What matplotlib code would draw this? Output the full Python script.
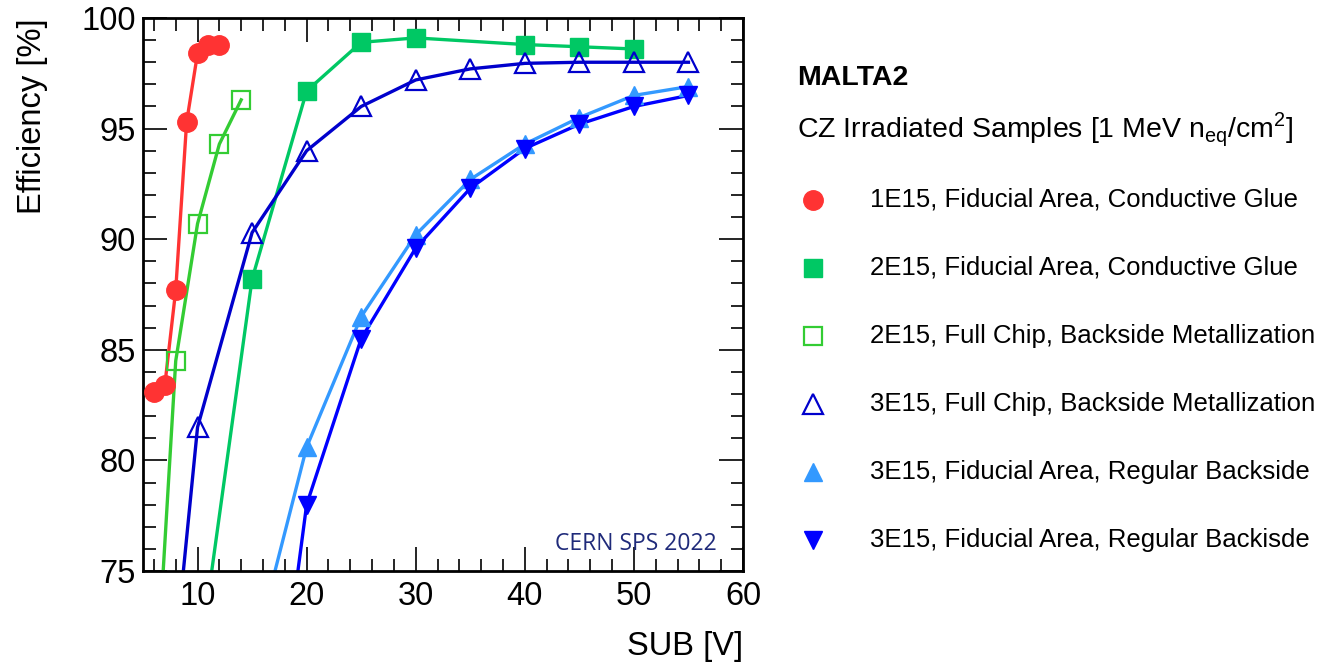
import matplotlib
matplotlib.use("Agg")
import matplotlib.pyplot as plt
from matplotlib.lines import Line2D
from matplotlib.ticker import MultipleLocator

plt.rcParams['font.family'] = ['Liberation Sans', 'DejaVu Sans']

# 1E15, fiducial area, conductive glue
v_1e15 = [6, 7, 8, 9, 10, 11, 12]
eff_1e15 = [83.1, 83.4, 87.7, 95.3, 98.4, 98.8, 98.8]

# 2E15, fiducial area, conductive glue
v_2e15_fid = [15, 20, 25, 30, 40, 45, 50]
eff_2e15_fid = [88.2, 96.7, 98.9, 99.1, 98.8, 98.7, 98.6]

# 2E15, full chip, backside metallization
v_2e15_full = [8, 10, 12, 14]
eff_2e15_full = [84.5, 90.7, 94.3, 96.3]

# 3E15, full chip, backside metallization
v_3e15_full = [10, 15, 20, 25, 30, 35, 40, 45, 50, 55]
eff_3e15_full = [81.5, 90.3, 94.0, 96.0, 97.2, 97.7, 97.95, 98.0, 98.0, 98.0]

# 3E15, fiducial area, regular backside
v_3e15_reg = [20, 25, 30, 35, 40, 45, 50, 55]
eff_3e15_reg = [80.6, 86.5, 90.2, 92.7, 94.3, 95.5, 96.5, 96.9]

# 3E15, fiducial area, regular backside (second sample)
v_3e15_reg2 = [20, 25, 30, 35, 40, 45, 50, 55]
eff_3e15_reg2 = [78.0, 85.5, 89.6, 92.3, 94.1, 95.2, 96.0, 96.5]

# where each drawn curve leaves the bottom of the frame (75 %)
v_at_75 = [None, 11.3, 6.85, 8.7, 17.1, 19.2]

labels = [
    "1E15, Fiducial Area, Conductive Glue",
    "2E15, Fiducial Area, Conductive Glue",
    "2E15, Full Chip, Backside Metallization",
    "3E15, Full Chip, Backside Metallization",
    "3E15, Fiducial Area, Regular Backside",
    "3E15, Fiducial Area, Regular Backisde",
]

c_red = '#ff3333'
c_green = '#00c864'
c_lime = '#33cc33'
c_navy = '#0000cc'
c_light = '#3399ff'
c_blue = '#0000ff'
colors = [c_red, c_green, c_lime, c_navy, c_light, c_blue]

styles = [
    dict(marker='o', ms=14, mfc=c_red, mec=c_red),
    dict(marker='s', ms=13, mfc=c_green, mec=c_green),
    dict(marker='s', ms=13, mfc='none', mec=c_lime, mew=1.6),
    dict(marker='^', ms=15, mfc='none', mec=c_navy, mew=1.6),
    dict(marker='^', ms=13, mfc=c_light, mec=c_light),
    dict(marker='v', ms=13, mfc=c_blue, mec=c_blue),
]
xs = [v_1e15, v_2e15_fid, v_2e15_full, v_3e15_full, v_3e15_reg, v_3e15_reg2]
ys = [eff_1e15, eff_2e15_fid, eff_2e15_full, eff_3e15_full, eff_3e15_reg, eff_3e15_reg2]

fig = plt.figure(figsize=(13.22, 6.63), dpi=100)
ax = fig.add_axes([143 / 1322, 92 / 663, 600 / 1322, 553 / 663])

lw = 2.4
for x, y, c, v75 in zip(xs, ys, colors, v_at_75):
    lx, ly = list(x), list(y)
    if v75 is not None:
        lx = [v75] + lx
        ly = [75.0] + ly
    ax.plot(lx, ly, color=c, lw=lw, zorder=2)

for x, y, st in zip(xs, ys, styles):
    ax.plot(x, y, linestyle='None', zorder=3, **st)

ax.set_xlim(5, 60)
ax.set_ylim(75, 100)
ax.xaxis.set_major_locator(MultipleLocator(10))
ax.xaxis.set_minor_locator(MultipleLocator(2))
ax.yaxis.set_major_locator(MultipleLocator(5))
ax.yaxis.set_minor_locator(MultipleLocator(1))
ax.tick_params(which='both', direction='in', top=True, right=True, width=1.2,
               labelsize=23.5, colors='black')
ax.tick_params(which='major', length=17)
ax.tick_params(which='minor', length=9)
ax.tick_params(axis='x', pad=7)
ax.tick_params(axis='y', pad=5)
for s in ax.spines.values():
    s.set_linewidth(2)

ax.set_xlabel("SUB [V]", fontsize=23.5, loc='right', labelpad=14)
ax.set_ylabel("Efficiency [%]", fontsize=23.5, loc='top', labelpad=24)

ax.text(0.957, 0.028, "CERN SPS 2022", transform=ax.transAxes, ha='right', va='bottom',
        fontsize=16.5, color='#1f2a7a', family=['Open Sans', 'DejaVu Sans'])

# legend block on the right
fig.text(797 / 1322, 1 - 78 / 663, "MALTA2", fontsize=20.5, fontweight='bold', va='center')
fig.text(797 / 1322, 1 - 130 / 663,
         r"CZ Irradiated Samples [1 MeV n$_\mathregular{eq}$/cm$^\mathregular{2}$]",
         fontsize=20.5, va='center')
for i, (lab, st) in enumerate(zip(labels, styles)):
    yy = 1 - (200 + 68 * i) / 663
    fig.add_artist(Line2D([813 / 1322], [yy], linestyle='None', **st))
    fig.text(870 / 1322, yy, lab, fontsize=18.5, va='center')

fig.savefig("out.png", dpi=100)
